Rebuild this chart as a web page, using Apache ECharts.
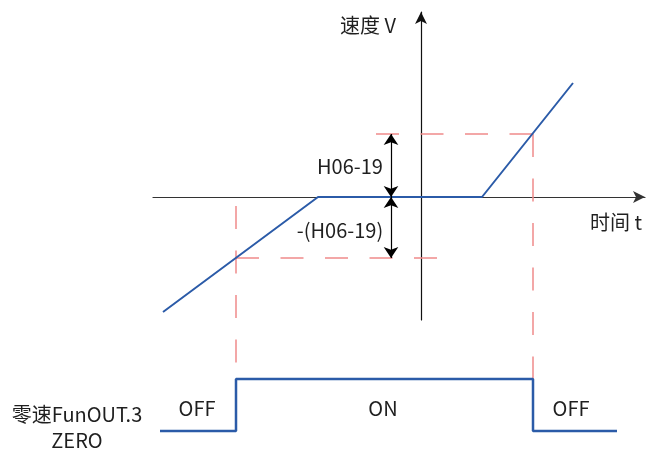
<!DOCTYPE html>
<html>
<head>
<meta charset="utf-8">
<script src="https://cdn.jsdelivr.net/npm/echarts@6/dist/echarts.min.js"></script>
<style>
  html, body { margin: 0; padding: 0; background: #fff; }
  #chart { width: 652px; height: 449px; }
</style>
</head>
<body>
<div id="chart"></div>
<script>
// speed curve (t, v), origin where the axes cross
const speedT = [-258, -103, 61, 152]
const speedV = [-115, 0, 0, 114]

// zero-speed threshold levels
const upperLevel = 63   // H06-19
const lowerLevel = -61  // -(H06-19)

// switching instants of the zero-speed output
const switchOn = -185
const switchOff = 112

// red guide segments [[t0, v0], [t1, v1]]
const guides = [
  [[-45, upperLevel], [switchOff, upperLevel]],
  [[switchOff, upperLevel], [switchOff, -182]],
  [[switchOn, lowerLevel], [16, lowerLevel]],
  [[switchOn, -9], [switchOn, -182]]
]

// double arrow marking the threshold band
const arrowT = -30

// FunOUT.3 signal (0 = OFF, 1 = ON)
const signalT = [-261, switchOn, switchOff, 196]
const signalState = [0, 1, 0, 0]
const stateLabels = ['OFF', 'ON', 'OFF']

const chart = echarts.init(document.getElementById('chart'))

const blue = '#2b5ba8'
const red = '#f08a8a'
const font = '"Noto Sans CJK SC", "Noto Sans", sans-serif'

const hiddenAxis = {
  show: false,
  splitLine: { show: false }
}

const guideSeries = guides.map(seg => ({
  type: 'line',
  xAxisIndex: 0,
  yAxisIndex: 0,
  data: seg,
  symbol: 'none',
  clip: false,
  silent: true,
  z: 1,
  lineStyle: { color: red, width: 1.5, type: [23, 21.5] }
}))

const textStyle = (text, x, y) => ({
  type: 'text',
  x: x,
  y: y,
  style: {
    text: text,
    font: '20px ' + font,
    fill: '#1f1f1f',
    textAlign: 'center',
    textVerticalAlign: 'middle',
    align: 'center',
    verticalAlign: 'middle'
  }
})

chart.setOption({
  animation: false,
  grid: [
    { left: 153, right: 7, top: 12, bottom: 129 },
    { left: 153, right: 7, top: 379, height: 52 }
  ],
  xAxis: [
    {
      type: 'value',
      gridIndex: 0,
      min: -268,
      max: 224,
      axisLine: {
        onZero: true,
        symbol: ['none', 'arrow'],
        symbolSize: [9, 12],
        lineStyle: { color: '#333', width: 1.2 }
      },
      axisTick: { show: false },
      axisLabel: { show: false },
      splitLine: { show: false }
    },
    { type: 'value', gridIndex: 1, min: -268, max: 224, ...hiddenAxis }
  ],
  yAxis: [
    {
      type: 'value',
      gridIndex: 0,
      min: -123,
      max: 185,
      axisLine: {
        onZero: true,
        symbol: ['none', 'arrow'],
        symbolSize: [9, 12],
        lineStyle: { color: '#111', width: 1.2 }
      },
      axisTick: { show: false },
      axisLabel: { show: false },
      splitLine: { show: false }
    },
    { type: 'value', gridIndex: 1, min: 0, max: 1, ...hiddenAxis }
  ],
  series: [
    ...guideSeries,
    {
      type: 'line',
      name: 'speed',
      xAxisIndex: 0,
      yAxisIndex: 0,
      data: speedT.map((t, i) => [t, speedV[i]]),
      symbol: 'none',
      z: 3,
      lineStyle: { color: blue, width: 2 }
    },
    {
      type: 'lines',
      coordinateSystem: 'cartesian2d',
      xAxisIndex: 0,
      yAxisIndex: 0,
      symbol: ['arrow', 'arrow'],
      symbolSize: 11,
      z: 4,
      lineStyle: { color: '#000', width: 1.2, opacity: 1 },
      data: [
        { coords: [[arrowT, upperLevel], [arrowT, 0]] },
        { coords: [[arrowT, 0], [arrowT, lowerLevel]] }
      ]
    },
    {
      type: 'line',
      name: 'FunOUT.3',
      xAxisIndex: 1,
      yAxisIndex: 1,
      step: 'end',
      data: signalT.map((t, i) => [t, signalState[i]]),
      symbol: 'none',
      clip: false,
      lineStyle: { color: blue, width: 2.5 }
    }
  ],
  graphic: [
    textStyle('速度 V', 368, 25),
    textStyle('时间 t', 616, 222),
    textStyle('H06-19', 350, 166),
    textStyle('-(H06-19)', 340, 230),
    textStyle(stateLabels[0], 197, 408),
    textStyle(stateLabels[1], 383, 408),
    textStyle(stateLabels[2], 571, 408),
    textStyle('零速FunOUT.3', 77, 414),
    textStyle('ZERO', 77, 440)
  ]
})
</script>
</body>
</html>
